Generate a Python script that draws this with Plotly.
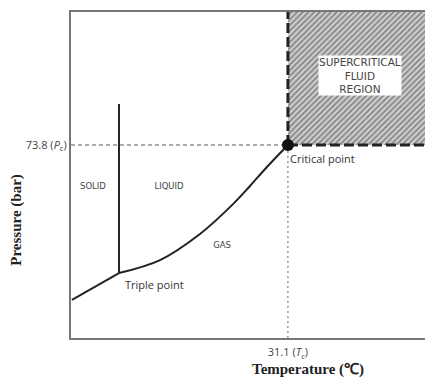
import plotly.graph_objects as go

# ---- data (schematic values) ----
T_crit = 31.1      # °C
P_crit = 73.8      # bar
T_triple = -56.6
P_triple = 5.15
melt_top_P = 95.8

# sublimation curve points
sub_T = [-81.0, -56.6]
sub_P = [-9.3, 5.15]
# vaporisation curve points
vap_T = [-56.6, -35.3, -14.55, 2.6, 11.4, 20.2, 31.1]
vap_P = [5.15, 12.1, 26.1, 42.1, 51.8, 62.0, 73.8]

x_range = [-81.5, 106.4]
y_range = [-29.7, 145.1]

region_labels = ["SOLID", "LIQUID", "GAS"]
region_T = [-70.1, -30.6, -3.1]
region_P = [51.3, 51.3, 19.6]

fig = go.Figure()

# supercritical hatched region
fig.add_trace(go.Scatter(
    x=[T_crit, x_range[1], x_range[1], T_crit, T_crit],
    y=[P_crit, P_crit, y_range[1], y_range[1], P_crit],
    fill="toself", mode="none",
    fillcolor="#c8c8c8",
    fillpattern=dict(shape="/", fgcolor="#3a3a3a", bgcolor="#cfcfcf", size=4, solidity=0.45),
    hoverinfo="skip", showlegend=False))

# thin dashed guide lines
fig.add_trace(go.Scatter(x=[x_range[0], T_crit], y=[P_crit, P_crit], mode="lines",
                         line=dict(color="#555", width=1, dash="4px,3px"), showlegend=False))
fig.add_trace(go.Scatter(x=[T_crit, T_crit], y=[y_range[0], P_crit], mode="lines",
                         line=dict(color="#666", width=1, dash="2px,3px"), showlegend=False))

# bold dashed borders of supercritical region
fig.add_trace(go.Scatter(x=[T_crit, T_crit], y=[P_crit, y_range[1]], mode="lines",
                         line=dict(color="#222", width=3, dash="10px,4px"), showlegend=False))
fig.add_trace(go.Scatter(x=[T_crit, x_range[1]], y=[P_crit, P_crit], mode="lines",
                         line=dict(color="#222", width=3, dash="10px,4px"), showlegend=False))

# melting line
fig.add_trace(go.Scatter(x=[T_triple, T_triple], y=[P_triple, melt_top_P], mode="lines",
                         line=dict(color="#222", width=2), showlegend=False))

# sublimation and vaporisation curves
fig.add_trace(go.Scatter(x=sub_T, y=sub_P, mode="lines",
                         line=dict(color="#222", width=2), showlegend=False))
fig.add_trace(go.Scatter(x=vap_T, y=vap_P, mode="lines",
                         line=dict(color="#222", width=2, shape="spline", smoothing=1.0),
                         showlegend=False))

# critical point marker
fig.add_trace(go.Scatter(x=[T_crit], y=[P_crit], mode="markers",
                         marker=dict(color="#111", size=12), showlegend=False))

# region labels
fig.add_trace(go.Scatter(x=region_T, y=region_P, mode="text", text=region_labels,
                         textfont=dict(family="DejaVu Sans", size=8.5, color="#444"),
                         showlegend=False))

fig.add_annotation(x=T_crit, y=P_crit, text="Critical point", showarrow=False,
                   xanchor="left", yanchor="top", xshift=0, yshift=-4,
                   font=dict(family="Open Sans", size=11, color="#333"))
fig.add_annotation(x=T_triple, y=P_triple, text="Triple point", showarrow=False,
                   xanchor="left", yanchor="top", xshift=4, yshift=-2,
                   font=dict(family="Open Sans", size=11, color="#333"))
fig.add_annotation(x=(T_crit + x_range[1]) / 2, y=y_range[1] - 34,
                   text="SUPERCRITICAL<br>FLUID<br>REGION", showarrow=False,
                   bgcolor="white", borderpad=0,
                   font=dict(family="DejaVu Sans", size=10.5, color="#444"))

# axis titles
fig.add_annotation(xref="paper", yref="paper", x=0.655, y=-0.098, text="<b>Temperature (℃)</b>",
                   showarrow=False, xanchor="center", yanchor="middle",
                   font=dict(family="Liberation Serif", size=15, color="#222"))
fig.add_annotation(xref="paper", yref="paper", x=-0.15, y=0.362, text="<b>Pressure (bar)</b>",
                   showarrow=False, textangle=-90, xanchor="center", yanchor="middle",
                   font=dict(family="Liberation Serif", size=15, color="#222"))

fig.update_xaxes(range=x_range, showgrid=False, zeroline=False, showline=True, mirror=True,
                 linecolor="#777", linewidth=2, tickvals=[T_crit], automargin=False,
                 ticktext=["31.1 (<i>T</i><sub>c</sub>)"], ticks="", ticklabelstandoff=3,
                 tickfont=dict(family="Open Sans", size=11, color="#444"))
fig.update_yaxes(range=y_range, showgrid=False, zeroline=False, showline=True, mirror=False,
                 linecolor="#777", linewidth=2, tickvals=[P_crit], automargin=False,
                 ticktext=["73.8 (<i>P</i><sub>c</sub>)"], ticks="",
                 tickfont=dict(family="Open Sans", size=11, color="#444"))

# page body has an 8px default margin, so the figure is offset by 8px
fig.update_layout(width=425, height=370, margin=dict(l=63, r=0, t=4, b=40),
                  plot_bgcolor="white", paper_bgcolor="white", showlegend=False)

fig.write_html("out.html")
